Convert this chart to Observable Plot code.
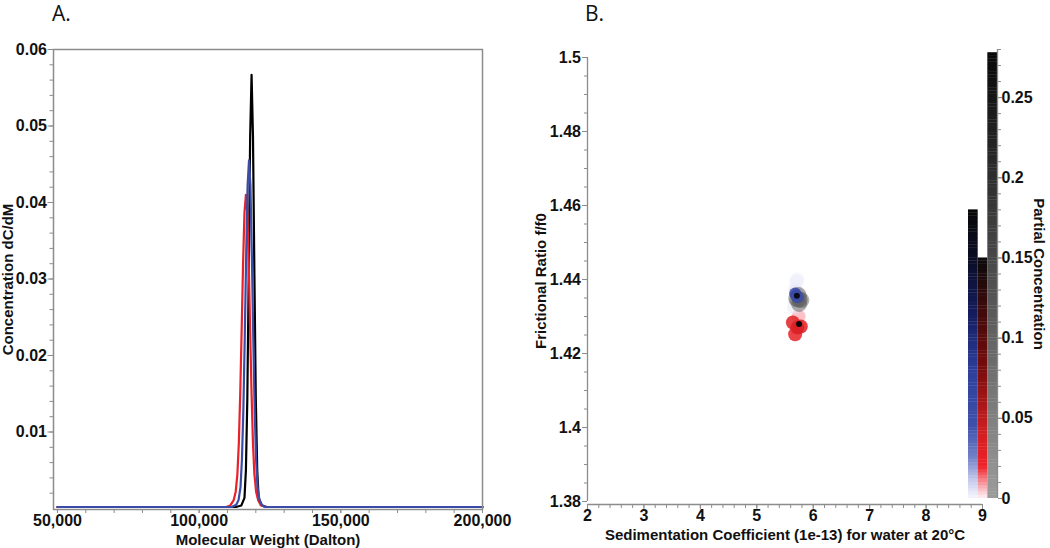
<!DOCTYPE html>
<html><head><meta charset="utf-8">
<script src="https://cdn.jsdelivr.net/npm/d3@7"></script>
<script src="https://cdn.jsdelivr.net/npm/@observablehq/plot@0.6"></script>
<style>
body{margin:0;background:#fff;}
#wrap{position:relative;width:1050px;height:548px;overflow:hidden;}
.panel{position:absolute;top:0;}
.panel svg{background:transparent !important;}
.tag{position:absolute;font-family:"Open Sans",sans-serif;font-size:21px;line-height:1.3;color:#111;}
</style></head><body>
<div id="wrap">
  <div id="a" class="panel" style="left:0"></div>
  <div id="b" class="panel" style="left:525px"></div>
  <div id="cb" class="panel" style="left:955px"></div>
  <div class="tag" style="left:52px;top:0px">A.</div>
  <div class="tag" style="left:585px;top:0px">B.</div>
</div>
<script>
// ---------- Panel A data: molecular weight distributions ----------
const blackMW = [50000, 113000, 114900, 116000, 116500, 117000, 117500, 118000, 118500, 119000, 119500, 120000, 120500, 121000, 122100, 124000, 200000];
const blackC  = [0.0002, 0.0002, 0.0004, 0.0014, 0.0050, 0.0143, 0.0306, 0.0486, 0.0567, 0.0486, 0.0306, 0.0143, 0.0050, 0.0014, 0.0004, 0.0002, 0.0002];

const blueMW = [50000, 111500, 113100, 113900, 114600, 115100, 115600, 116100, 116600, 117100, 117600, 118100, 118600, 119100, 119600, 120100, 120600, 121300, 122100, 123100, 124500, 200000];
const blueC  = [0.0002, 0.0002, 0.0005, 0.0011, 0.0028, 0.0064, 0.0128, 0.0224, 0.0332, 0.0422, 0.0455, 0.0422, 0.0332, 0.0224, 0.0128, 0.0064, 0.0028, 0.0011, 0.0005, 0.0002, 0.0002, 0.0002];

const redMW = [50000, 109500, 111000, 112200, 112900, 113500, 114000, 114500, 115000, 115500, 116000, 116500, 117000, 117500, 118000, 118500, 119000, 119500, 120100, 120800, 121800, 123500, 200000];
const redC  = [0.0002, 0.0002, 0.0004, 0.0011, 0.0022, 0.0045, 0.0085, 0.0150, 0.0233, 0.0320, 0.0387, 0.0410, 0.0387, 0.0320, 0.0233, 0.0150, 0.0085, 0.0045, 0.0022, 0.0011, 0.0004, 0.0002, 0.0002];

const mwTicks = [50000, 100000, 150000, 200000];
const concTicks = [0.01, 0.02, 0.03, 0.04, 0.05, 0.06];

// ---------- Panel B data: 2DSA solutes (s, f/f0, partial concentration) ----------
const graySed  = [5.72, 5.70, 5.79, 5.75, 5.74, 5.76];
const grayFf0  = [1.4346, 1.4348, 1.4344, 1.4334, 1.4358, 1.4346];
const grayConc = [0.06, 0.08, 0.07, 0.09, 0.10, 0.12];

const blueHazeSed  = [5.68, 5.70, 5.66, 5.72, 5.69];
const blueHazeFf0  = [1.4375, 1.4395, 1.4325, 1.4400, 1.4365];
const blueHazeConc = [0.004, 0.003, 0.004, 0.002, 0.006];

const blueSed  = [5.70, 5.68, 5.72, 5.71];
const blueFf0  = [1.4357, 1.4362, 1.4352, 1.4356];
const blueConc = [0.05, 0.06, 0.05, 0.16];

const redSed  = [5.74, 5.64, 5.78, 5.68, 5.72, 5.75];
const redFf0  = [1.4300, 1.4284, 1.4273, 1.4252, 1.4270, 1.4280];
const redConc = [0.006, 0.03, 0.03, 0.025, 0.035, 0.15];

const sedTicks = [2, 3, 4, 5, 6, 7, 8, 9];
const ffTicks = [1.38, 1.40, 1.42, 1.44, 1.46, 1.48, 1.50];

// ---------- Colour bar data ----------
const barNames = ["blue", "red", "gray"];
const barTops = [0.18, 0.15, 0.278];
const pcTicks = [0, 0.05, 0.1, 0.15, 0.2, 0.25];

const stops = {
  blue: [[0, "#f6f6fd"], [0.01, "#cdd0ee"], [0.025, "#7482c8"], [0.045, "#3f50aa"], [0.08, "#2d3e9a"], [0.115, "#141c5e"], [0.15, "#0b0d24"], [0.18, "#080808"]],
  red:  [[0, "#fff2f4"], [0.008, "#f8a4ab"], [0.02, "#ee2128"], [0.04, "#d21f22"], [0.08, "#7a0c0c"], [0.12, "#3a0a0a"], [0.15, "#0a0a0a"]],
  gray: [[0, "#9c9c9c"], [0.14, "#4c4c4c"], [0.278, "#080808"]]
};
const cscale = {};
for (const k of barNames) {
  cscale[k] = d3.scaleLinear().domain(stops[k].map(s => s[0])).range(stops[k].map(s => s[1])).interpolate(d3.interpolateRgb).clamp(true);
}

const FONT = "'Liberation Sans', Arial, Helvetica, sans-serif";
const AX = "#8c8c8c";
const FS = 15;   // axis titles
const FT = 16;   // tick labels
const baseStyle = {fontFamily: FONT, fontSize: "15px", fontWeight: "bold", background: "transparent", color: "#111", overflow: "visible"};
const fmt = d => `${+(+d).toFixed(3)}`;

const zip = (xs, ys) => xs.map((x, i) => ({mw: x, c: ys[i]}));
const pts = (s, f, c) => s.map((v, i) => ({s: v, f: f[i], c: c[i]}));

// ---------- Panel A ----------
const A = Plot.plot({
  width: 525, height: 548,
  marginLeft: 53, marginRight: 43, marginTop: 49, marginBottom: 39,
  style: baseStyle,
  x: {domain: [48600, 200000]},
  y: {domain: [-0.00013, 0.06]},
  marks: [
    Plot.line(zip(blackMW, blackC), {x: "mw", y: "c", stroke: "#000000", strokeWidth: 2.2}),
    Plot.line(zip(redMW, redC), {x: "mw", y: "c", stroke: "#e8212b", strokeWidth: 2.2}),
    Plot.line(zip(blueMW, blueC), {x: "mw", y: "c", stroke: "#3b4ca6", strokeWidth: 2.2}),
    Plot.frame({stroke: AX, strokeWidth: 1.5}),
    Plot.axisX({ticks: mwTicks, tickFormat: d3.format(","), tickSize: 4, tickPadding: 1, stroke: AX, fill: "#111", fontSize: FT, label: null}),
    Plot.axisX({ticks: d3.range(50000, 200001, 10000), tickSize: 4, tickFormat: () => "", stroke: AX,
      label: "Molecular Weight (Dalton)", labelAnchor: "center", labelOffset: 35, labelArrow: "none", fontSize: FS}),
    Plot.axisY({ticks: concTicks, tickSize: 5.5, tickPadding: 1, stroke: AX, fill: "#111", fontSize: FT, tickFormat: fmt, label: null}),
    Plot.axisY({ticks: d3.range(0.002, 0.0601, 0.002), tickSize: 3.5, tickFormat: () => "", stroke: AX,
      label: "Concentration dC/dM", labelAnchor: "center", labelOffset: 51, labelArrow: "none", fontSize: FS})
  ]
});
document.getElementById("a").appendChild(A);

// ---------- Panel B ----------
const yMinB = 1.3792;
const B = Plot.plot({
  width: 525, height: 548,
  marginLeft: 62, marginRight: 68, marginTop: 57, marginBottom: 44,
  style: baseStyle,
  x: {domain: [2, 9]},
  y: {domain: [yMinB, 1.5]},
  color: {type: "identity"},
  marks: [
    Plot.dot(pts(redSed, redFf0, redConc).slice(0, 5), {x: "s", y: "f", r: 7, fill: d => cscale.red(d.c), fillOpacity: 0.85, stroke: "none"}),
    Plot.dot(pts(redSed, redFf0, redConc).slice(5), {x: "s", y: "f", r: 3, fill: d => cscale.red(d.c), stroke: "none"}),
    Plot.dot(pts(blueHazeSed, blueHazeFf0, blueHazeConc), {x: "s", y: "f", r: 7, fill: d => cscale.blue(d.c), fillOpacity: 0.5, stroke: "none"}),
    Plot.dot(pts(graySed, grayFf0, grayConc), {x: "s", y: "f", r: 8, fill: d => cscale.gray(d.c), fillOpacity: 0.55, stroke: "none"}),
    Plot.dot(pts(blueSed, blueFf0, blueConc).slice(0, 3), {x: "s", y: "f", r: 6, fill: d => cscale.blue(d.c), fillOpacity: 0.85, stroke: "none"}),
    Plot.dot(pts(blueSed, blueFf0, blueConc).slice(3), {x: "s", y: "f", r: 3, fill: d => cscale.blue(d.c), stroke: "none"}),
    Plot.ruleX([2], {y1: 1.38, y2: 1.5, stroke: AX, strokeWidth: 1.3}),
    Plot.ruleY([yMinB], {stroke: AX, strokeWidth: 1.3}),
    Plot.axisX({ticks: sedTicks, tickSize: 5, tickPadding: 0, stroke: AX, fill: "#111", fontSize: FT, tickFormat: fmt, label: null}),
    Plot.axisX({ticks: d3.range(2, 9.001, 0.2), tickSize: 4, tickFormat: () => "", stroke: AX,
      label: "Sedimentation Coefficient (1e-13) for water at 20°C", labelAnchor: "center", labelOffset: 35, labelArrow: "none", fontSize: FS}),
    Plot.axisY({ticks: ffTicks, tickSize: 5, tickPadding: 1.5, stroke: AX, fill: "#111", fontSize: FT, tickFormat: fmt, label: null}),
    Plot.axisY({ticks: d3.range(1.38, 1.5001, 0.005), tickSize: 3, tickFormat: () => "", stroke: AX,
      label: "Frictional Ratio f/f0", labelAnchor: "center", labelOffset: 52, labelArrow: "none", fontSize: FS})
  ]
});
document.getElementById("b").appendChild(B);

// ---------- Colour bars ----------
const segs = [];
barNames.forEach((k, i) => {
  const top = barTops[i];
  for (let v = 0; v < top - 1e-9; v += 0.002) {
    segs.push({x1: i, x2: i + 1, y1: v, y2: Math.min(v + 0.0022, top), fill: cscale[k](v + 0.001)});
  }
});
const CB = Plot.plot({
  width: 95, height: 548,
  marginLeft: 13, marginRight: 53, marginTop: 49, marginBottom: 50,
  style: baseStyle,
  x: {domain: [0, 3], axis: null},
  y: {domain: [0, 0.28]},
  color: {type: "identity"},
  marks: [
    Plot.rect(segs, {x1: "x1", x2: "x2", y1: "y1", y2: "y2", fill: "fill"}),
    Plot.ruleX([3], {y1: 0, y2: 0.28, stroke: AX, strokeWidth: 1.3}),
    Plot.axisY({anchor: "right", ticks: pcTicks, tickSize: 4, tickPadding: 0, stroke: AX, fill: "#111", fontSize: FT, tickFormat: fmt, label: null}),
    Plot.axisY({anchor: "right", ticks: d3.range(0, 0.2801, 0.01), tickSize: 3, tickFormat: () => "", stroke: AX, label: null}),
    Plot.text(["Partial Concentration"], {text: d => d, frameAnchor: "right", textAnchor: "middle", rotate: 90, dx: 41, fill: "#111", fontSize: FS})
  ]
});
document.getElementById("cb").appendChild(CB);
</script>
</body></html>
